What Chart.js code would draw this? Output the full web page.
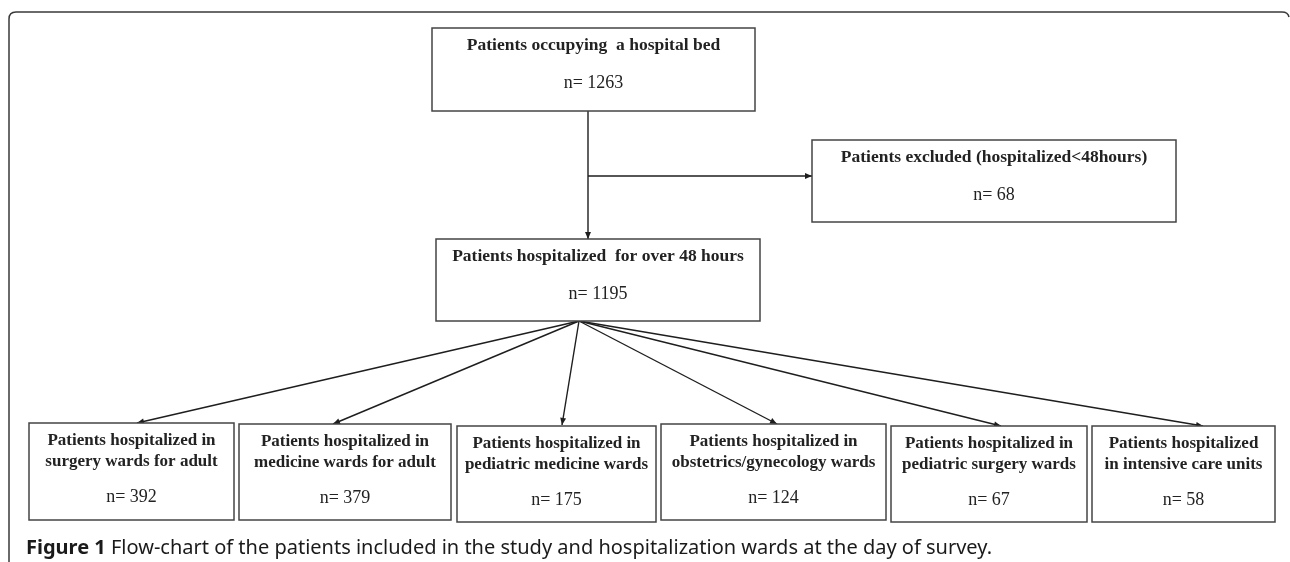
<!DOCTYPE html>
<html>
<head>
<meta charset="utf-8">
<script src="https://cdn.jsdelivr.net/npm/chart.js@4"></script>
<style>
  html, body { margin: 0; padding: 0; background: #fff; }
  #wrap { width: 1290px; height: 562px; position: relative; }
</style>
</head>
<body>
<div id="wrap"><canvas id="flowChart"></canvas></div>
<script>
// box texts and counts
let boxTitles = [
  ["Patients occupying  a hospital bed"],
  ["Patients excluded (hospitalized<48hours)"],
  ["Patients hospitalized  for over 48 hours"],
  ["Patients hospitalized in", "surgery wards for adult"],
  ["Patients hospitalized in", "medicine wards for adult"],
  ["Patients hospitalized in", "pediatric medicine wards"],
  ["Patients hospitalized in", "obstetrics/gynecology wards"],
  ["Patients hospitalized in", "pediatric surgery wards"],
  ["Patients hospitalized", "in intensive care units"]
];
let boxCounts = [1263, 68, 1195, 392, 379, 175, 124, 67, 58];

// layout of the boxes, in figure units
let boxLeft   = [432, 812, 436,  29, 239, 457, 661, 891, 1092];
let boxRight  = [755, 1176, 760, 234, 451, 656, 886, 1087, 1275];
let boxTop    = [28, 140, 239, 423, 424, 426, 424, 426, 426];
let boxBottom = [111, 222, 321, 520, 520, 522, 520, 522, 522];

// connectors: [from, to]
let links = [
  [[588, 111], [588, 239]],
  [[588, 176], [812, 176]],
  [[579, 321], [137, 423]],
  [[579, 321], [333, 424]],
  [[579, 321], [562, 425]],
  [[579, 321], [777, 424]],
  [[579, 321], [1001, 426]],
  [[579, 321], [1203, 426]]
];

let captionBold = "Figure 1";
let captionText = " Flow-chart of the patients included in the study and hospitalization wards at the day of survey.";

let datasets = links.map(function (l) {
  return {
    data: [{ x: l[0][0], y: l[0][1] }, { x: l[1][0], y: l[1][1] }],
    showLine: true,
    borderColor: "#1e1e1e",
    borderWidth: 1.4,
    pointRadius: 0,
    fill: false
  };
});

let serif = "'Liberation Serif', 'DejaVu Serif', serif";

let flowPlugin = {
  id: "flow",
  afterDatasetsDraw: function (chart) {
    let ctx = chart.ctx;
    let xs = chart.scales.x, ys = chart.scales.y;
    ctx.save();

    // outer frame
    ctx.strokeStyle = "#3a3a3a";
    ctx.lineWidth = 1.5;
    ctx.beginPath();
    ctx.moveTo(xs.getPixelForValue(9), ys.getPixelForValue(562));
    ctx.lineTo(xs.getPixelForValue(9), ys.getPixelForValue(19));
    ctx.quadraticCurveTo(xs.getPixelForValue(9), ys.getPixelForValue(12), xs.getPixelForValue(16), ys.getPixelForValue(12));
    ctx.lineTo(xs.getPixelForValue(1282), ys.getPixelForValue(12));
    ctx.quadraticCurveTo(xs.getPixelForValue(1288), ys.getPixelForValue(12), xs.getPixelForValue(1289), ys.getPixelForValue(17));
    ctx.stroke();

    // arrow heads
    ctx.fillStyle = "#1e1e1e";
    chart.data.datasets.forEach(function (ds) {
      let a = ds.data[0], b = ds.data[1];
      let x1 = xs.getPixelForValue(a.x), y1 = ys.getPixelForValue(a.y);
      let x2 = xs.getPixelForValue(b.x), y2 = ys.getPixelForValue(b.y);
      let ang = Math.atan2(y2 - y1, x2 - x1);
      let len = 7, w = 3;
      ctx.beginPath();
      ctx.moveTo(x2, y2);
      ctx.lineTo(x2 - len * Math.cos(ang) + w * Math.sin(ang), y2 - len * Math.sin(ang) - w * Math.cos(ang));
      ctx.lineTo(x2 - len * Math.cos(ang) - w * Math.sin(ang), y2 - len * Math.sin(ang) + w * Math.cos(ang));
      ctx.closePath();
      ctx.fill();
    });

    // boxes and texts
    ctx.textAlign = "center";
    ctx.textBaseline = "middle";
    for (let i = 0; i < boxCounts.length; i++) {
      let l = xs.getPixelForValue(boxLeft[i]), r = xs.getPixelForValue(boxRight[i]);
      let t = ys.getPixelForValue(boxTop[i]), b = ys.getPixelForValue(boxBottom[i]);
      ctx.fillStyle = "#fff";
      ctx.fillRect(l, t, r - l, b - t);
      ctx.strokeStyle = "#444";
      ctx.lineWidth = 1.5;
      ctx.strokeRect(l, t, r - l, b - t);

      let cx = (l + r) / 2;
      ctx.fillStyle = "#222";
      let lines = boxTitles[i];
      if (lines.length === 1) {
        ctx.font = "bold 17.5px " + serif;
        ctx.fillText(lines[0], cx, t + 17);
        ctx.font = "18px " + serif;
        ctx.fillText("n= " + boxCounts[i], cx, t + 55);
      } else {
        ctx.font = "bold 17px " + serif;
        ctx.fillText(lines[0], cx, t + 18);
        ctx.fillText(lines[1], cx, t + 39);
        ctx.font = "18px " + serif;
        ctx.fillText("n= " + boxCounts[i], cx, t + 74);
      }
    }

    // caption
    ctx.textAlign = "left";
    ctx.fillStyle = "#1a1a1a";
    ctx.font = "bold 20px 'Noto Sans', 'Open Sans', sans-serif";
    let cxp = xs.getPixelForValue(26), cyp = ys.getPixelForValue(548);
    ctx.fillText(captionBold, cxp, cyp);
    let bw = ctx.measureText(captionBold).width;
    ctx.font = "20px 'Noto Sans', 'Open Sans', sans-serif";
    ctx.fillText(captionText, cxp + bw, cyp);

    ctx.restore();
  }
};

new Chart(document.getElementById("flowChart").getContext("2d"), {
  type: "scatter",
  data: { datasets: datasets },
  options: {
    responsive: true,
    maintainAspectRatio: false,
    animation: false,
    layout: { padding: 0 },
    plugins: { legend: { display: false }, tooltip: { enabled: false } },
    scales: {
      x: { type: "linear", min: 0, max: 1290, display: false },
      y: { type: "linear", min: 0, max: 562, reverse: true, display: false }
    }
  },
  plugins: [flowPlugin]
});
</script>
</body>
</html>
